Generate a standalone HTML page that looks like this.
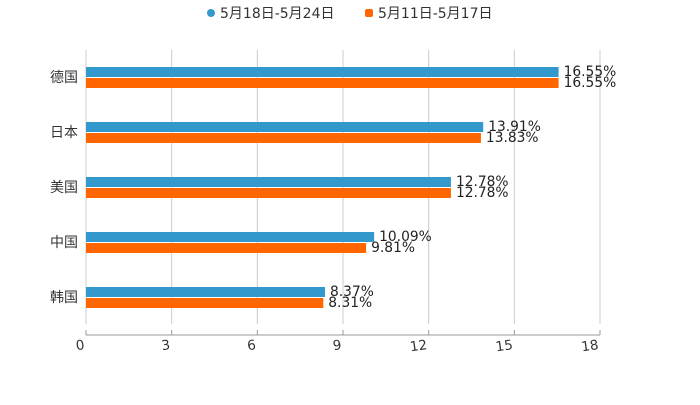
<!DOCTYPE html>
<html><head><meta charset="utf-8"><style>
body{margin:0;background:#fff;}
svg text{font-family:"DejaVu Sans","Noto Sans CJK SC",sans-serif;}
</style></head><body>
<svg id="c" width="700" height="400">
<g>
<circle cx="211" cy="13" r="4" fill="#3399cc"/>
<text x="220" y="18" font-size="14" fill="#333">5月18日-5月24日</text>
<rect x="365" y="9" width="8" height="8" rx="2" fill="#ff6600"/>
<text x="378" y="18" font-size="14" fill="#333">5月11日-5月17日</text>
</g>
<g id="grid"></g><g id="bars"></g><g id="axis"></g>
</svg>
<script>
const categories=["德国","日本","美国","中国","韩国"];
const seriesA=[16.55,13.91,12.78,10.09,8.37];
const seriesB=[16.55,13.83,12.78,9.81,8.31];
const ticks=[0,3,6,9,12,15,18];
const NS="http://www.w3.org/2000/svg";
const x0=86,x1=600,xmax=18;
const xs=v=>x0+(x1-x0)*v/xmax;
const yc=i=>77+55*i;
function mk(t,a,p){const e=document.createElementNS(NS,t);for(const k in a)e.setAttribute(k,a[k]);p.appendChild(e);return e;}
const g=document.getElementById('grid'),b=document.getElementById('bars'),ax=document.getElementById('axis');
ticks.forEach(t=>{
 const gl=mk('line',{x1:xs(t),x2:xs(t),y1:50,y2:324,stroke:'#ccc','stroke-width':1},g);
 
 
 const tk=mk('line',{x1:xs(t),x2:xs(t),y1:330,y2:335,stroke:'#999'},ax);
 
 
 const tl=mk('text',{x:xs(t)-1,y:349,'font-size':13.5,fill:'#333','text-anchor':'end',transform:'rotate(-8 '+(xs(t)-1)+' 349)'},ax);
 tl.textContent=t;
 
 
});
const al=mk('line',{x1:x0,x2:x1,y1:335,y2:335,stroke:'#999'},ax);


categories.forEach((c,i)=>{
 const y=yc(i);
 const cl=mk('text',{x:78,y:y+5,'font-size':14,fill:'#333','text-anchor':'end'},ax);
 cl.textContent=c;
 
 
 const ra=mk('rect',{x:x0,y:y-10,width:xs(seriesA[i])-x0,height:10,fill:'#3399cc'},b);
 
 
 const rb=mk('rect',{x:x0,y:y+1,width:xs(seriesB[i])-x0,height:10,fill:'#ff6600'},b);
 
 
 const ta=mk('text',{x:xs(seriesA[i])+5,y:y-1,'font-size':13.8,fill:'#222'},b);
 ta.textContent=seriesA[i].toFixed(2)+'%';
 
 
 const tb=mk('text',{x:xs(seriesB[i])+5,y:y+10,'font-size':13.8,fill:'#222'},b);
 tb.textContent=seriesB[i].toFixed(2)+'%';
 
 
});
</script>
</body></html>
